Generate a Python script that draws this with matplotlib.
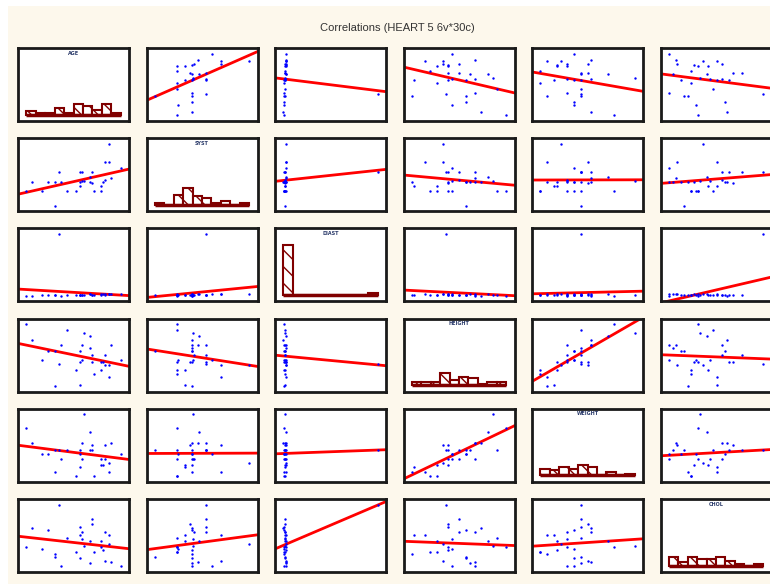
import numpy as np
import matplotlib
matplotlib.use("Agg")
import matplotlib.pyplot as plt
from matplotlib.patches import Rectangle

# 30 cases, 6 variables
names = ["AGE", "SYST", "DIAST", "HEIGHT", "WEIGHT", "CHOL"]

age = [42, 66, 66, 71, 76, 70, 68, 68, 61, 60, 56, 55, 60, 61, 55,
       53, 48, 55, 45, 38, 30, 35, 27, 44, 70, 57, 62, 67, 56, 42]
syst = [109, 131, 139, 152, 167, 176, 176, 148, 144, 146, 147, 146, 153, 161, 161,
        131, 131, 139, 146, 146, 146, 132, 131, 161, 204, 147, 131, 146, 161, 146]
diast = [84, 90, 88, 95, 92, 96, 94, 86, 88, 90, 84, 82, 92, 86, 80,
         78, 82, 84, 76, 80, 72, 78, 74, 880, 98, 86, 88, 90, 84, 80]
height = [178, 170, 165, 182, 172, 160, 168, 175, 170, 180, 172, 178, 188, 175, 170,
          165, 192, 155, 182, 178, 185, 172, 196, 169, 168, 190, 162, 170, 182, 154]
weight = [72, 68, 65, 75, 70, 62, 74, 68, 74, 72, 68, 70, 80, 72, 72,
          60, 72, 64, 68, 70, 75, 70, 82, 72, 66, 88, 60, 65, 75, 62]
chol = [192, 218, 236, 178, 166, 252, 180, 260, 280, 174, 240, 188, 234, 296, 274,
        206, 244, 252, 166, 266, 270, 214, 218, 334, 226, 222, 206, 210, 260, 200]

data = [np.array(v, dtype=float) for v in (age, syst, diast, height, weight, chol)]
n = len(data)

bg = "#fdf8ec"
dark_red = "#800000"
plt.rcParams["hatch.color"] = dark_red
plt.rcParams["hatch.linewidth"] = 1.0

W, H = 770, 584
fig = plt.figure(figsize=(W / 100, H / 100), dpi=100, facecolor=bg)

# white margin strips at top and left
fig.patches.append(Rectangle((0, 1 - 6 / H), 1, 6 / H, transform=fig.transFigure,
                             facecolor="white", edgecolor="none", zorder=0))
fig.patches.append(Rectangle((0, 0), 8 / W, 1, transform=fig.transFigure,
                             facecolor="white", edgecolor="none", zorder=0))

fig.text(397 / W, 1 - 28 / H, "Correlations (HEART 5 6v*30c)", ha="center", va="center",
         fontsize=8, color="#333333", family="Liberation Sans")


def limits(v, pad=0.09):
    lo, hi = v.min(), v.max()
    r = hi - lo
    return lo - pad * r, hi + pad * r


x0, dx, pw = 18, 128.5, 111
y0, dy, ph = 48, 90.2, 73

for i in range(n):
    for j in range(n):
        left = x0 + j * dx
        top = y0 + i * dy
        ax = fig.add_axes([left / W, 1 - (top + ph) / H, pw / W, ph / H])
        ax.set_facecolor("white")
        ax.set_xticks([])
        ax.set_yticks([])
        for s in ax.spines.values():
            s.set_linewidth(2)
            s.set_color("#1a1a1a")
        xv = data[j]
        yv = data[i]
        ax.set_xlim(limits(xv))
        if i == j:
            edges = np.linspace(xv.min(), xv.max(), 11)
            counts, _ = np.histogram(xv, bins=edges)
            ax.bar(edges[:-1], counts, width=np.diff(edges), align="edge",
                   facecolor="white", edgecolor=dark_red, hatch="\\\\", linewidth=1.5)
            ax.plot([edges[0], edges[-1]], [0, 0], color=dark_red, lw=2.5,
                    solid_capstyle="butt")
            ax.set_ylim(-3.7, 39)
            ax.text(0.5, 0.93, names[i], transform=ax.transAxes, ha="center", va="center",
                    fontsize=3.5, fontweight="bold", color="#2a3a6a")
        else:
            ax.set_ylim(limits(yv))
            ax.scatter(xv, yv, s=3, color="#0000ff", linewidths=0, zorder=3)
            k, b = np.polyfit(xv, yv, 1)
            xl = np.array(ax.get_xlim())
            ax.plot(xl, k * xl + b, color="#ff0000", lw=2, zorder=2)

fig.savefig("out.png", dpi=100, facecolor=bg)
